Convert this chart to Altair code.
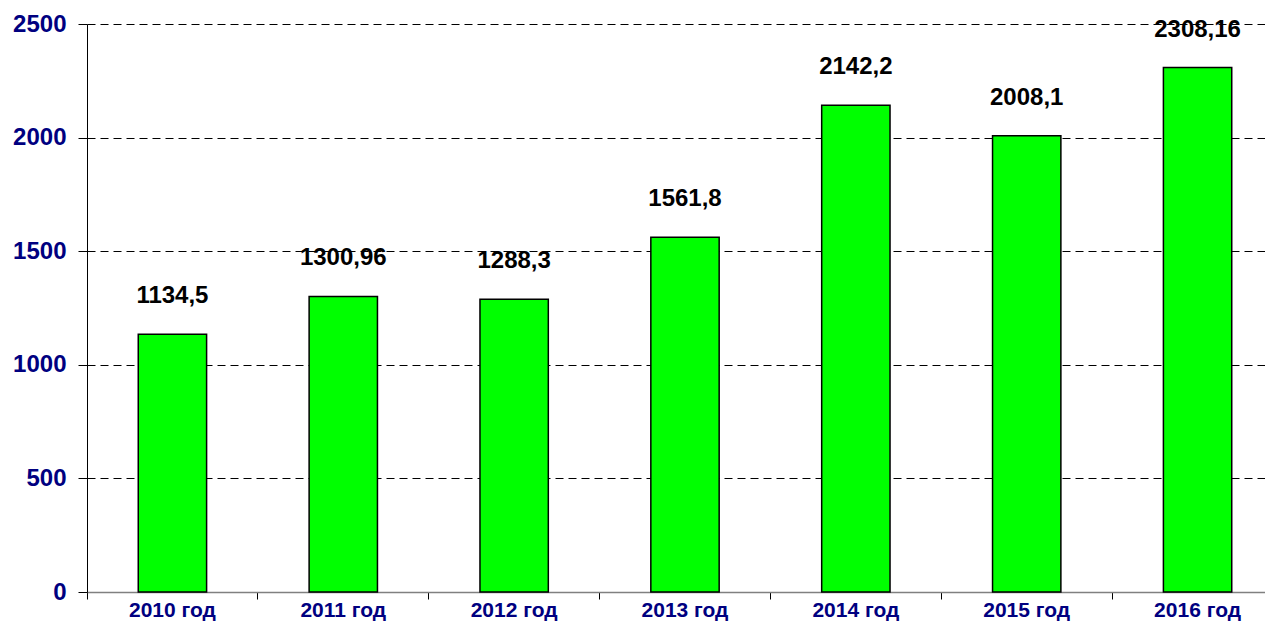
import altair as alt
import pandas as pd

years = ["2010 год", "2011 год", "2012 год", "2013 год", "2014 год", "2015 год", "2016 год"]
values = [1134.5, 1300.96, 1288.3, 1561.8, 2142.2, 2008.1, 2308.16]
labels = ["1134,5", "1300,96", "1288,3", "1561,8", "2142,2", "2008,1", "2308,16"]
y_ticks = [0, 500, 1000, 1500, 2000, 2500]

df = pd.DataFrame({"year": years, "value": values, "label": labels})

FONT = "Liberation Sans"

x_scale = alt.Scale(domain=years, range=[0, 1196], paddingInner=0, paddingOuter=0)
y_scale = alt.Scale(domain=[0, 2500], nice=False)

y_axis = alt.Axis(
    title=None, values=y_ticks, format="d", tickSize=9, tickColor="black", domainColor="black",
    labelFontSize=24, labelFontWeight="bold", labelColor="#000080", labelFont=FONT,
    labelPadding=12, grid=True, gridColor="black", gridDash=[8, 5], gridWidth=1,
)

bars = alt.Chart(df).mark_bar(
    width=alt.RelativeBandSize(0.4), fill="#00FF00", stroke="black", strokeWidth=1.5
).encode(
    x=alt.X("year:N", scale=x_scale, axis=alt.Axis(
        orient="bottom", title=None, labels=False, ticks=True, bandPosition=0, tickSize=7,
        tickColor="black", domainColor="#808080", domainWidth=1.5, grid=False)),
    y=alt.Y("value:Q", scale=y_scale, axis=y_axis),
)

text = alt.Chart(df).mark_text(
    dy=-38, fontSize=24, fontWeight="bold", font=FONT, color="black", baseline="middle"
).encode(
    x=alt.X("year:N", scale=x_scale, axis=alt.Axis(
        orient="bottom", title=None, ticks=False, domain=False, grid=False, labelAngle=0,
        labelFontSize=21, labelFontWeight="bold", labelColor="#000080",
        labelFont=FONT, labelPadding=7)),
    y=alt.Y("value:Q", scale=y_scale, axis=y_axis),
    text="label:N",
)

chart = alt.layer(bars, text).resolve_axis(x="independent").properties(
    width=1178, height=568,
    autosize=alt.AutoSizeParams(type="none"),
    padding={"left": 79, "top": 16, "right": 0, "bottom": 34},
).configure_view(stroke=None)

chart.save("out.html", embed_options={"renderer": "svg", "actions": False})
